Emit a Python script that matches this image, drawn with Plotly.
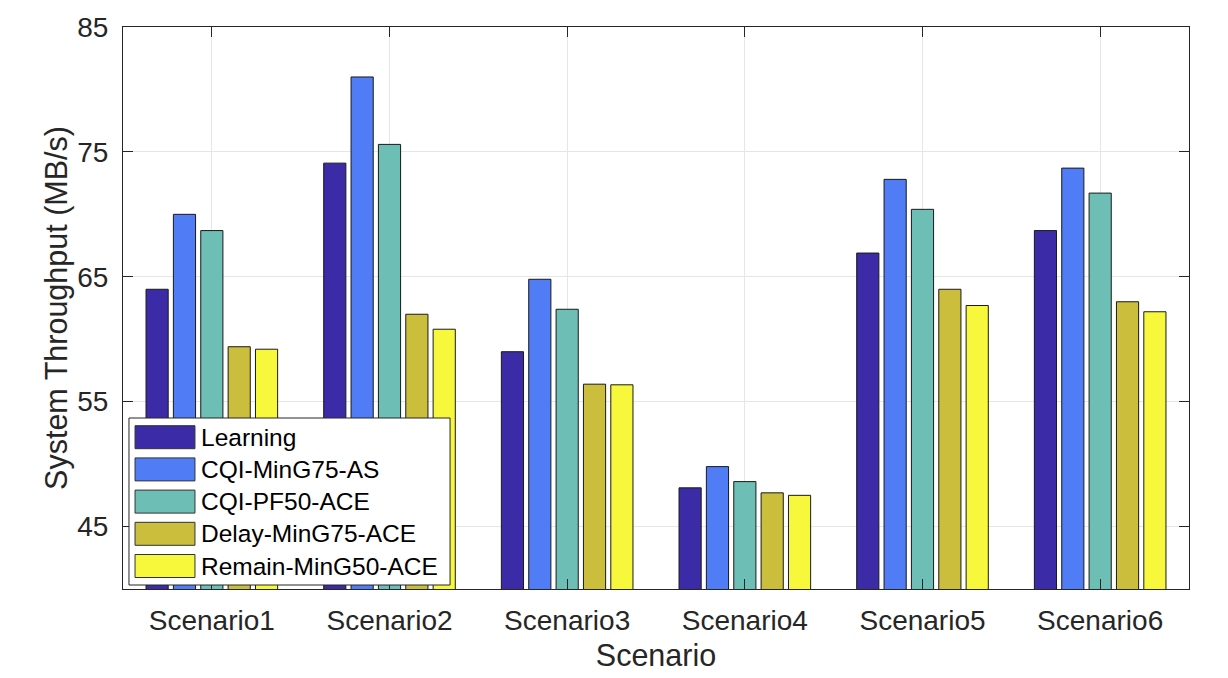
import plotly.graph_objects as go

scenarios = ["Scenario1", "Scenario2", "Scenario3", "Scenario4", "Scenario5", "Scenario6"]

learning = [64.0, 74.1, 59.0, 48.1, 66.9, 68.7]
cqi_ming75_as = [70.0, 81.0, 64.8, 49.8, 72.8, 73.7]
cqi_pf50_ace = [68.7, 75.6, 62.4, 48.6, 70.4, 71.7]
delay_ming75_ace = [59.4, 62.0, 56.4, 47.7, 64.0, 63.0]
remain_ming50_ace = [59.2, 60.8, 56.35, 47.5, 62.7, 62.2]

series = [
    ("Learning", learning, "#3B2BA7"),
    ("CQI-MinG75-AS", cqi_ming75_as, "#507CF6"),
    ("CQI-PF50-ACE", cqi_pf50_ace, "#6DBEB4"),
    ("Delay-MinG75-ACE", delay_ming75_ace, "#CABE3C"),
    ("Remain-MinG50-ACE", remain_ming50_ace, "#F7F83C"),
]

font = "Liberation Sans, Arial, Helvetica, sans-serif"
ink = "#262626"

fig = go.Figure()
for name, vals, color in series:
    fig.add_trace(go.Bar(
        x=scenarios,
        y=vals,
        name=name,
        showlegend=False,
        marker=dict(color=color, line=dict(color="#1a1a1a", width=1)),
    ))

# MATLAB-style legend box with wide swatches (paper coords of the plot area)
plot_h = 562.0
def py(pix):  # pixel offset above the x axis -> paper y
    return pix / plot_h

fig.add_shape(type="rect", xref="paper", yref="paper",
              x0=0.0056, x1=0.3068, y0=py(4), y1=py(171),
              fillcolor="white", line=dict(color=ink, width=1), layer="above")
for i, (name, vals, color) in enumerate(series):
    top = 163.3 - i * 32.2
    fig.add_shape(type="rect", xref="paper", yref="paper",
                  x0=0.0113, x1=0.0675, y0=py(top - 23), y1=py(top),
                  fillcolor=color, line=dict(color="#333333", width=1), layer="above")
    fig.add_annotation(xref="paper", yref="paper", x=0.0715, y=py(top - 11.5),
                       text=name, showarrow=False, xanchor="left", yanchor="middle",
                       font=dict(size=24.5, color="black", family=font))

fig.update_layout(
    width=1228,
    height=678,
    barmode="group",
    bargap=0.23,
    bargroupgap=0.19,
    plot_bgcolor="white",
    paper_bgcolor="white",
    font=dict(family=font, color=ink),
    margin=dict(l=115, r=47, t=19, b=97),
)

fig.update_xaxes(
    title=dict(text="Scenario", font=dict(size=30.5, color=ink), standoff=10),
    tickfont=dict(size=28, color=ink),
    ticklabelstandoff=6,
    automargin=False,
    showline=True, linecolor=ink, linewidth=1, mirror="ticks",
    ticks="inside", ticklen=10, tickcolor=ink,
    showgrid=True, gridcolor="#E6E6E6", gridwidth=1,
    range=[-0.5, 5.5],
)
fig.update_yaxes(
    title=dict(text="System Throughput (MB/s)", font=dict(size=30.5, color=ink), standoff=0),
    tickfont=dict(size=28, color=ink),
    ticklabelstandoff=8,
    automargin=False,
    range=[40, 85],
    tickvals=[45, 55, 65, 75, 85],
    showline=True, linecolor=ink, linewidth=1, mirror="ticks",
    ticks="inside", ticklen=10, tickcolor=ink,
    showgrid=True, gridcolor="#E6E6E6", gridwidth=1,
    zeroline=False,
)

fig.write_html("out.html")
